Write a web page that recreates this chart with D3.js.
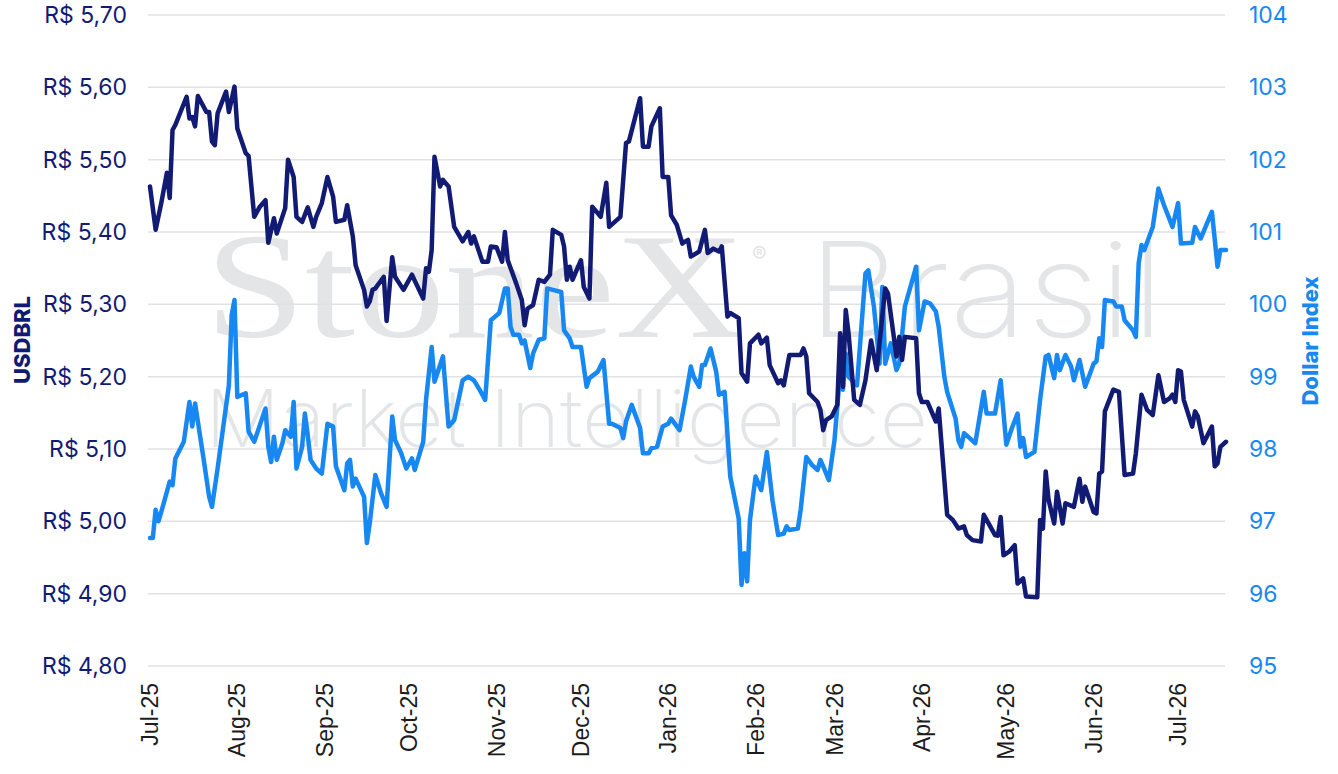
<!DOCTYPE html>
<html>
<head>
<meta charset="utf-8">
<script src="https://cdn.jsdelivr.net/npm/d3@7/dist/d3.min.js"></script>
<style>
  body { margin: 0; background: #fff; }
  svg { display: block; }
</style>
</head>
<body>
<div id="chart"></div>
<script>
// days after 1 Jul 2025, value
const usdbrlSeries = [
  [0,5.463],[1,5.433],[2,5.403],[4,5.440],[6,5.482],[7,5.447],[8,5.541],[9,5.548],[13,5.587],[14,5.557],
  [15,5.559],[16,5.546],[17,5.588],[20,5.566],[21,5.566],[22,5.525],[23,5.520],[24,5.564],[27,5.594],[28,5.566],
  [30,5.601],[31,5.543],[34,5.509],[35,5.505],[37,5.421],[39,5.435],[41,5.444],[42,5.385],[44,5.419],[45,5.398],
  [48,5.433],[49,5.500],[51,5.476],[52,5.421],[54,5.414],[56,5.434],[58,5.407],[59,5.421],[61,5.440],[63,5.476],
  [65,5.449],[66,5.414],[69,5.417],[70,5.437],[72,5.394],[73,5.354],[76,5.320],[77,5.297],[78,5.304],[79,5.320],
  [80,5.322],[83,5.338],[84,5.277],[86,5.365],[87,5.338],[90,5.320],[93,5.341],[97,5.308],[98,5.350],[99,5.345],
  [100,5.375],[101,5.504],[103,5.463],[104,5.472],[106,5.463],[108,5.407],[111,5.387],[113,5.400],[114,5.384],[115,5.394],
  [118,5.359],[120,5.359],[121,5.380],[123,5.379],[125,5.359],[126,5.400],[127,5.361],[130,5.329],[132,5.306],[133,5.271],
  [134,5.294],[136,5.299],[138,5.334],[140,5.331],[142,5.341],[143,5.403],[146,5.396],[147,5.380],[148,5.334],[149,5.352],
  [150,5.334],[153,5.361],[154,5.324],[156,5.308],[157,5.435],[160,5.421],[162,5.468],[163,5.407],[167,5.421],[169,5.523],
  [170,5.525],[174,5.585],[175,5.518],[177,5.518],[178,5.546],[181,5.571],[182,5.476],[184,5.476],[185,5.423],[187,5.410],
  [189,5.384],[190,5.387],[191,5.389],[192,5.366],[195,5.373],[197,5.403],[198,5.371],[200,5.377],[202,5.373],[203,5.380],
  [205,5.283],[206,5.288],[209,5.281],[210,5.205],[212,5.193],[213,5.246],[216,5.258],[217,5.246],[219,5.254],[220,5.216],
  [223,5.191],[224,5.195],[225,5.188],[227,5.230],[231,5.230],[232,5.239],[233,5.228],[234,5.177],[237,5.165],[238,5.154],
  [239,5.126],[240,5.140],[242,5.145],[244,5.161],[245,5.260],[246,5.186],[247,5.292],[248,5.260],[250,5.168],[252,5.161],
  [254,5.195],[256,5.250],[258,5.209],[261,5.322],[262,5.315],[265,5.228],[266,5.255],[267,5.223],[268,5.255],[272,5.253],
  [273,5.177],[274,5.165],[276,5.165],[279,5.138],[280,5.156],[283,5.009],[285,5.002],[287,4.990],[289,4.993],[290,4.981],
  [292,4.974],[295,4.972],[296,5.009],[298,4.995],[300,4.981],[301,4.980],[302,5.006],[303,4.953],[305,4.958],[307,4.967],
  [308,4.914],[310,4.921],[311,4.896],[315,4.895],[316,5.002],[317,4.990],[318,5.069],[319,5.030],[321,4.997],[322,5.041],
  [324,4.997],[325,5.025],[328,5.020],[330,5.059],[331,5.027],[332,5.048],[335,5.013],[336,5.011],[337,5.066],[338,5.069],
  [339,5.152],[342,5.182],[344,5.179],[346,5.064],[349,5.066],[350,5.094],[352,5.175],[354,5.154],[356,5.147],[358,5.202],
  [360,5.165],[362,5.170],[363,5.175],[364,5.165],[365,5.209],[366,5.207],[367,5.168],[370,5.131],[371,5.152],[372,5.145],
  [374,5.108],[377,5.131],[378,5.076],[379,5.080],[380,5.103],[382,5.110]
];

const dxySeries = [
  [0,96.77],[1,96.77],[2,97.16],[3,97.00],[4,97.13],[7,97.55],[8,97.50],[9,97.87],[12,98.10],[14,98.65],
  [15,98.31],[16,98.63],[19,97.87],[21,97.34],[22,97.20],[24,97.73],[28,98.88],[29,99.85],[30,100.06],[31,98.72],
  [34,98.77],[35,98.24],[37,98.10],[41,98.56],[42,98.03],[43,97.82],[44,98.17],[45,97.85],[47,98.08],[48,98.26],
  [50,98.17],[51,98.65],[52,97.73],[54,98.03],[55,98.49],[56,98.19],[57,97.85],[59,97.73],[61,97.66],[63,98.35],
  [65,98.31],[66,97.76],[69,97.43],[70,97.80],[71,97.85],[72,97.48],[73,97.59],[76,97.34],[77,96.70],[78,96.97],
  [80,97.64],[82,97.39],[84,97.20],[86,98.45],[87,98.12],[89,97.96],[91,97.73],[93,97.87],[94,97.71],[97,98.10],
  [98,98.68],[100,99.41],[101,98.93],[104,99.28],[106,98.31],[108,98.40],[111,98.95],[113,99.00],[115,98.95],[117,98.82],
  [119,98.68],[121,99.78],[124,99.88],[126,100.22],[127,100.22],[128,99.69],[129,99.58],[131,99.58],[132,99.46],[133,99.50],
  [135,99.12],[136,99.32],[138,99.51],[140,99.53],[141,100.22],[143,100.20],[146,100.17],[147,99.64],[149,99.53],[150,99.41],
  [153,99.41],[155,98.86],[156,98.98],[159,99.07],[161,99.23],[163,98.35],[164,98.35],[167,98.29],[168,98.15],[169,98.38],
  [171,98.61],[174,98.29],[175,97.94],[177,97.94],[178,98.01],[180,98.03],[182,98.31],[184,98.35],[185,98.42],[188,98.26],
  [190,98.68],[192,99.14],[193,99.00],[195,98.86],[196,99.16],[197,99.16],[199,99.39],[201,99.07],[202,98.75],[204,98.79],
  [206,97.62],[209,97.04],[210,96.12],[211,96.56],[212,96.17],[213,97.02],[215,97.62],[217,97.43],[219,97.96],[221,97.29],
  [223,96.81],[225,96.83],[226,96.93],[227,96.88],[230,96.90],[231,97.16],[233,97.89],[235,97.78],[237,97.71],[238,97.85],
  [239,97.76],[241,97.57],[243,98.12],[245,99.05],[246,98.82],[247,99.32],[248,99.00],[251,98.88],[254,100.43],[255,100.47],
  [257,99.97],[259,99.18],[260,100.24],[261,99.18],[263,99.46],[265,99.09],[266,99.18],[268,99.97],[272,100.52],[273,99.64],
  [275,100.04],[277,100.01],[279,99.90],[280,99.69],[282,99.00],[283,98.79],[286,98.42],[287,98.12],[288,98.03],[289,98.22],
  [291,98.15],[293,98.08],[296,98.79],[297,98.49],[300,98.49],[302,98.95],[304,98.06],[306,98.29],[308,98.49],[309,98.03],
  [310,98.15],[311,97.89],[314,97.96],[316,98.68],[318,99.28],[319,99.30],[321,98.98],[322,99.30],[323,99.09],[325,99.30],
  [327,99.14],[328,98.95],[330,99.23],[332,98.86],[335,99.18],[336,99.21],[337,99.53],[338,99.41],[339,100.06],[342,100.04],
  [343,99.97],[345,99.97],[346,99.78],[349,99.64],[350,99.55],[351,100.57],[352,100.82],[353,100.75],[356,101.07],[358,101.60],
  [360,101.37],[363,101.07],[365,101.40],[366,100.84],[370,100.85],[371,101.07],[373,100.91],[377,101.28],[379,100.52],[380,100.75],
  [382,100.75]
];

const brlTicks = [4.8, 4.9, 5.0, 5.1, 5.2, 5.3, 5.4, 5.5, 5.6, 5.7];
const dxyTicks = [95, 96, 97, 98, 99, 100, 101, 102, 103, 104];
const startDate = new Date(2025, 6, 1);
const lastDay = 382;

const W = 1338, H = 774;
const plotLeft = 148, plotRight = 1225, plotTop = 15, plotBottom = 666;
const navy = '#111b74', sky = '#1787f1';

const svg = d3.select('#chart').append('svg').attr('width', W).attr('height', H);
svg.append('rect').attr('width', W).attr('height', H).attr('fill', '#fff');

const toDate = d => d3.timeDay.offset(startDate, d);
const x = d3.scaleTime().domain([startDate, toDate(lastDay)]).range([150, 1226]);
const yL = d3.scaleLinear().domain([4.8, 5.7]).range([plotBottom, plotTop]);
const yR = d3.scaleLinear().domain([95, 104]).range([plotBottom, plotTop]);

// watermark
const wm = svg.append('g').attr('fill', '#e4e5e7');
wm.append('text').attr('x', 205).attr('y', 337)
  .attr('textLength', 540).attr('lengthAdjust', 'spacingAndGlyphs')
  .style('font-family', '"Liberation Serif", "DejaVu Serif", serif')
  .style('font-size', '150px').text('StoneX');
wm.append('text').attr('x', 752).attr('y', 262)
  .style('font-family', 'Inter, sans-serif').style('font-size', '22px').text('®');
wm.append('text').attr('x', 808).attr('y', 337)
  .attr('textLength', 356).attr('lengthAdjust', 'spacingAndGlyphs')
  .style('font-family', 'Inter, sans-serif').style('font-weight', 200)
  .style('font-size', '132px').text('Brasil');
wm.append('text').attr('x', 205).attr('y', 447)
  .attr('textLength', 723).attr('lengthAdjust', 'spacingAndGlyphs')
  .style('font-family', 'Inter, sans-serif').style('font-weight', 200)
  .style('font-size', '80px').text('Market Intelligence');

// grid
svg.append('g').selectAll('line').data(brlTicks).join('line')
  .attr('x1', plotLeft).attr('x2', plotRight)
  .attr('y1', d => yL(d)).attr('y2', d => yL(d))
  .attr('stroke', '#e2e2e2').attr('stroke-width', 1.5);

// left axis
const axL = svg.append('g').attr('transform', 'translate(127,0)')
  .call(d3.axisLeft(yL).tickValues(brlTicks).tickSize(0).tickPadding(0)
    .tickFormat(d => 'R$ ' + d.toFixed(2).replace('.', ',')));
axL.select('.domain').remove();
axL.selectAll('text').attr('fill', navy)
  .style('font-family', 'Inter, sans-serif').style('font-size', '23px');

// right axis
const axR = svg.append('g').attr('transform', 'translate(1249,0)')
  .call(d3.axisRight(yR).tickValues(dxyTicks).tickSize(0).tickPadding(0));
axR.select('.domain').remove();
axR.selectAll('text').attr('fill', sky)
  .style('font-family', 'Inter, sans-serif').style('font-size', '23px');

// bottom axis labels
const months = d3.timeMonth.range(startDate, toDate(lastDay));
svg.append('g').selectAll('text').data(months).join('text')
  .attr('transform', d => `translate(${x(d)},683) rotate(-90)`)
  .attr('text-anchor', 'end').attr('dy', '0.35em')
  .attr('fill', '#1c1c1c')
  .style('font-family', '"Liberation Sans", Arial, sans-serif').style('font-size', '23px')
  .text(d3.timeFormat('%b-%y'));

// axis titles
svg.append('text').attr('transform', 'translate(22,340) rotate(-90)')
  .attr('text-anchor', 'middle').attr('dy', '0.35em').attr('fill', navy)
  .style('font-family', 'Inter, sans-serif').style('font-weight', 800).style('font-size', '22px')
  .text('USDBRL');
svg.append('text').attr('transform', 'translate(1310,341) rotate(-90)')
  .attr('text-anchor', 'middle').attr('dy', '0.35em').attr('fill', sky)
  .style('font-family', 'Inter, sans-serif').style('font-weight', 800).style('font-size', '22px')
  .text('Dollar Index');

// lines
const lineR = d3.line().x(d => x(toDate(d[0]))).y(d => yR(d[1]));
const lineL = d3.line().x(d => x(toDate(d[0]))).y(d => yL(d[1]));

svg.append('path').datum(dxySeries).attr('d', lineR)
  .attr('fill', 'none').attr('stroke', sky).attr('stroke-width', 4.5)
  .attr('stroke-linejoin', 'round').attr('stroke-linecap', 'round');
svg.append('path').datum(usdbrlSeries).attr('d', lineL)
  .attr('fill', 'none').attr('stroke', navy).attr('stroke-width', 4.5)
  .attr('stroke-linejoin', 'round').attr('stroke-linecap', 'round');
</script>
</body>
</html>
